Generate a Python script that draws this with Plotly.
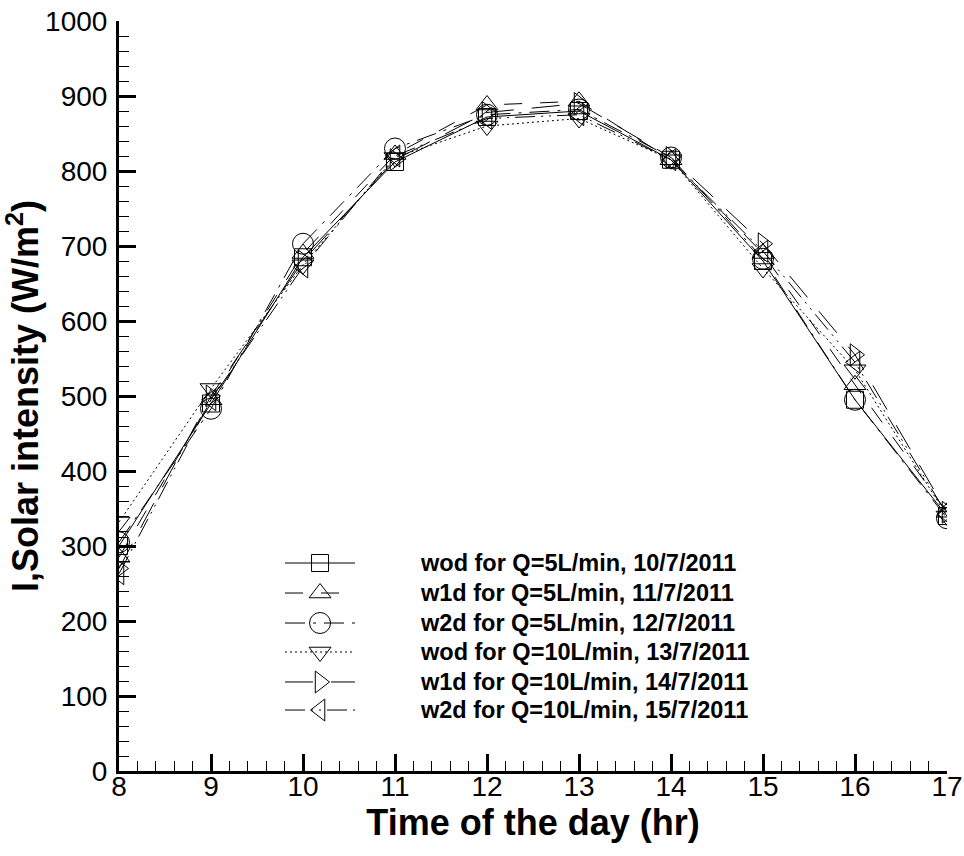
import plotly.graph_objects as go

hours = [8, 9, 10, 11, 12, 13, 14, 15, 16, 17]

wod_5 = [300, 490, 685, 812, 872, 880, 815, 680, 495, 340]
w1d_5 = [285, 495, 690, 822, 888, 893, 815, 690, 515, 345]
w2d_5 = [305, 483, 703, 830, 875, 882, 818, 683, 495, 337]
wod_10 = [332, 510, 675, 818, 860, 870, 815, 670, 535, 340]
w1d_10 = [270, 500, 680, 815, 878, 890, 818, 703, 555, 345]
w2d_10 = [263, 495, 672, 820, 870, 875, 815, 693, 545, 342]

names = [
    "wod for Q=5L/min, 10/7/2011",
    "w1d for Q=5L/min, 11/7/2011",
    "w2d for Q=5L/min, 12/7/2011",
    "wod for Q=10L/min, 13/7/2011",
    "w1d for Q=10L/min, 14/7/2011",
    "w2d for Q=10L/min, 15/7/2011",
]
series = [wod_5, w1d_5, w2d_5, wod_10, w1d_10, w2d_10]
symbols = ["square-open", "triangle-up-open", "circle-open",
           "triangle-down-open", "triangle-right-open", "triangle-left-open"]
dashes = ["solid", "18px,18px", "20px,8px,3px,8px", "2px,3px",
          "28px,18px", "20px,6px,2px,6px,2px,6px"]
sizes = [17, 19, 21, 19, 19, 19]

fig = go.Figure()
for name, ys, sym, dash, sz in zip(names, series, symbols, dashes, sizes):
    fig.add_trace(go.Scatter(
        x=hours, y=ys, mode="lines+markers", name=name,
        line=dict(color="black", width=1, dash=dash),
        marker=dict(symbol=sym, size=sz, color="black", line=dict(width=1, color="black")),
        showlegend=False,
    ))

# custom legend on an overlay axis (fractions of the plot area)
leg_y = [0.2773, 0.2373, 0.1973, 0.1587, 0.1187, 0.0813]
for name, sym, dash, sz, ly in zip(names, symbols, dashes, sizes, leg_y):
    fig.add_trace(go.Scatter(
        x=[0.2005, 0.285], y=[ly, ly], mode="lines", xaxis="x2", yaxis="y2",
        line=dict(color="black", width=1, dash=dash), showlegend=False, hoverinfo="skip",
    ))
    fig.add_trace(go.Scatter(
        x=[0.2428], y=[ly], mode="markers", xaxis="x2", yaxis="y2",
        marker=dict(symbol=sym, size=sz, color="black", line=dict(width=1, color="black")),
        showlegend=False, hoverinfo="skip",
    ))
    fig.add_annotation(x=0.361, y=ly, xref="x2", yref="y2", text="<b>" + name + "</b>", showarrow=False,
                       xanchor="left", yanchor="middle",
                       font=dict(family="Liberation Sans, Arial", size=23.5, color="black"))

axis_font = dict(family="Liberation Sans, Arial", size=28, color="black")
title_font = dict(family="Liberation Sans, Arial", size=36, color="black")

fig.update_layout(
    width=964, height=856,
    margin=dict(l=119, r=17, t=21, b=85, autoexpand=False),
    paper_bgcolor="white", plot_bgcolor="white",
    showlegend=False,
    xaxis=dict(
        range=[8, 17], tickvals=hours, ticktext=[str(h) for h in hours],
        automargin=False,
        showgrid=False, zeroline=False, showline=True, linecolor="black", linewidth=3,
        ticks="inside", ticklen=17, tickwidth=3, tickcolor="black",
        tickfont=axis_font, ticklabelstandoff=-12,
        minor=dict(dtick=0.2, ticks="inside", ticklen=10, tickwidth=1, tickcolor="black", showgrid=False),
        title=dict(text="<b>Time of the day (hr)</b>", font=title_font, standoff=0),
    ),
    yaxis=dict(
        range=[0, 1000], dtick=100,
        automargin=False,
        showgrid=False, zeroline=False, showline=True, linecolor="black", linewidth=3,
        ticks="inside", ticklen=17, tickwidth=3, tickcolor="black",
        tickfont=axis_font, ticklabelstandoff=3,
        minor=dict(dtick=20, ticks="inside", ticklen=10, tickwidth=1, tickcolor="black", showgrid=False),
        title=dict(text="<b>I,Solar intensity (W/m<sup>2</sup>)</b>", font=title_font, standoff=0),
    ),
    xaxis2=dict(range=[0, 1], overlaying="x", visible=False),
    yaxis2=dict(range=[0, 1], overlaying="y", visible=False),
)

fig.write_html("out.html")
